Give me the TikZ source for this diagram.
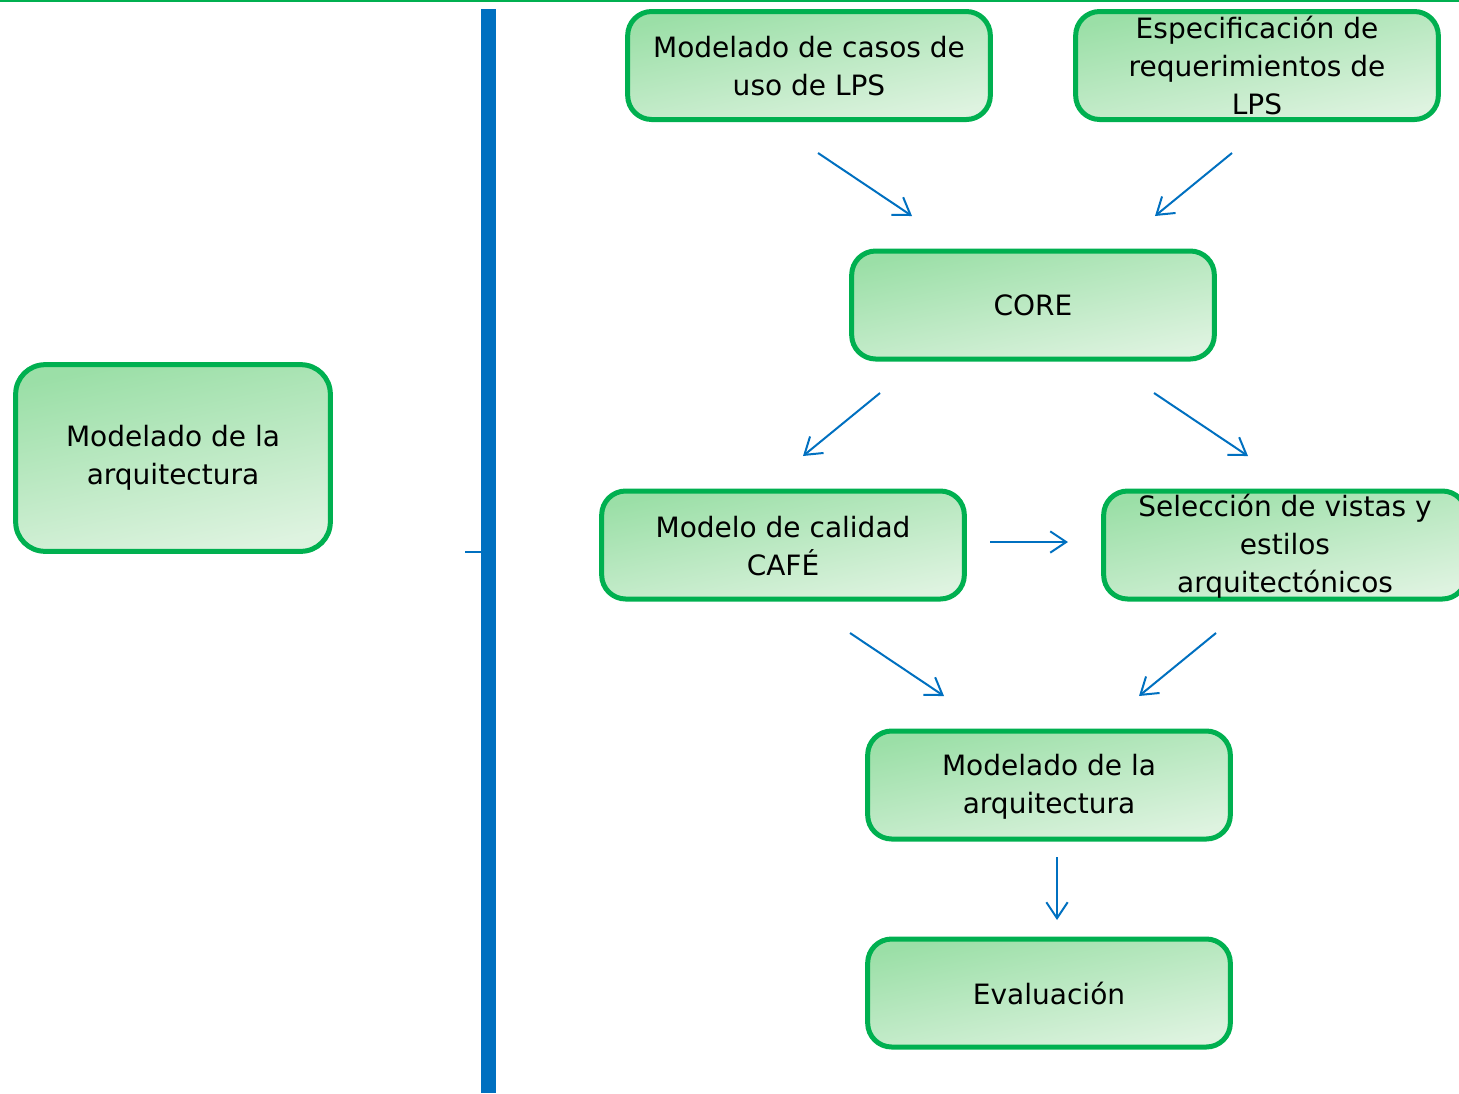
\documentclass[tikz,border=0pt]{standalone}
\usepackage{fontspec}
\setmainfont{DejaVu Sans}
\usetikzlibrary{arrows.meta}
\definecolor{frame}{RGB}{0,176,80}
\definecolor{flowblue}{RGB}{0,112,192}
\definecolor{fillA}{RGB}{155,223,167}
\definecolor{fillB}{RGB}{222,243,224}
\begin{document}
\begin{tikzpicture}[x=0.75pt,y=-0.75pt,
  stage/.style={draw=frame, line width=3.75pt, rounded corners=18pt,
    top color=fillA, bottom color=fillB, shading angle=12,
    minimum width=272pt, minimum height=81pt, inner sep=0pt},
  caption/.style={align=center, font=\fontsize{21}{28.5}\selectfont, inner sep=0pt},
  flow/.style={draw=flowblue, line width=1.5pt, -{Straight Barb[length=12pt,width=16pt]}}]
\useasboundingbox (0,0) rectangle (1459,1093);

% top rule and vertical separator
\draw[frame, line width=1.5pt] (0,1) -- (1459,1);
\fill[flowblue] (481,9) rectangle (496,1093);
\draw[flowblue, line width=1.2pt] (465,552) -- (481,552);

% left summary box
\node[stage, rounded corners=22pt, minimum width=236pt, minimum height=140pt] (left) at (173,458) {};
\node[caption] (leftt) at (left.center) {Modelado de la\\arquitectura};

% process boxes
\node[stage] (uc) at (809,65.5) {};
\node[caption] (uct) at ([yshift=-0.5pt]uc.center) {Modelado de casos de\\uso de LPS};
\node[stage] (req) at (1257,65.5) {};
\node[caption] (reqt) at (req.center) {Especificación de\\requerimientos de\\LPS};
\node[stage] (core) at (1033,305) {};
\node[caption] (coret) at (core.center) {CORE};
\node[stage] (cafe) at (783,545) {};
\node[caption] (cafet) at ([yshift=-0.5pt]cafe.center) {Modelo de calidad\\CAFÉ};
\node[stage] (sel) at (1285,545) {};
\node[caption] (selt) at ([yshift=-1pt]sel.center) {Selección de vistas y\\estilos\\arquitectónicos};
\node[stage] (arq) at (1049,785) {};
\node[caption] (arqt) at ([yshift=-1.5pt]arq.center) {Modelado de la\\arquitectura};
\node[stage] (ev) at (1049,993) {};
\node[caption] (evt) at (ev.center) {Evaluación};

% arrow end points
\coordinate (a1s) at (818,153);  \coordinate (a1e) at (912,216);
\coordinate (a2s) at (1232,153); \coordinate (a2e) at (1155,216);
\coordinate (a3s) at (880,393);  \coordinate (a3e) at (803,456);
\coordinate (a4s) at (1154,393); \coordinate (a4e) at (1248,456);
\coordinate (a5s) at (990,542);  \coordinate (a5e) at (1068,542);
\coordinate (a6s) at (850,633);  \coordinate (a6e) at (944,696);
\coordinate (a7s) at (1216,633); \coordinate (a7e) at (1139,696);
\coordinate (a8s) at (1057,857); \coordinate (a8e) at (1057,920);

\draw[flow] (a1s) -- (a1e);
\draw[flow] (a2s) -- (a2e);
\draw[flow] (a3s) -- (a3e);
\draw[flow] (a4s) -- (a4e);
\draw[flow] (a5s) -- (a5e);
\draw[flow] (a6s) -- (a6e);
\draw[flow] (a7s) -- (a7e);
\draw[flow] (a8s) -- (a8e);
\end{tikzpicture}
\end{document}
